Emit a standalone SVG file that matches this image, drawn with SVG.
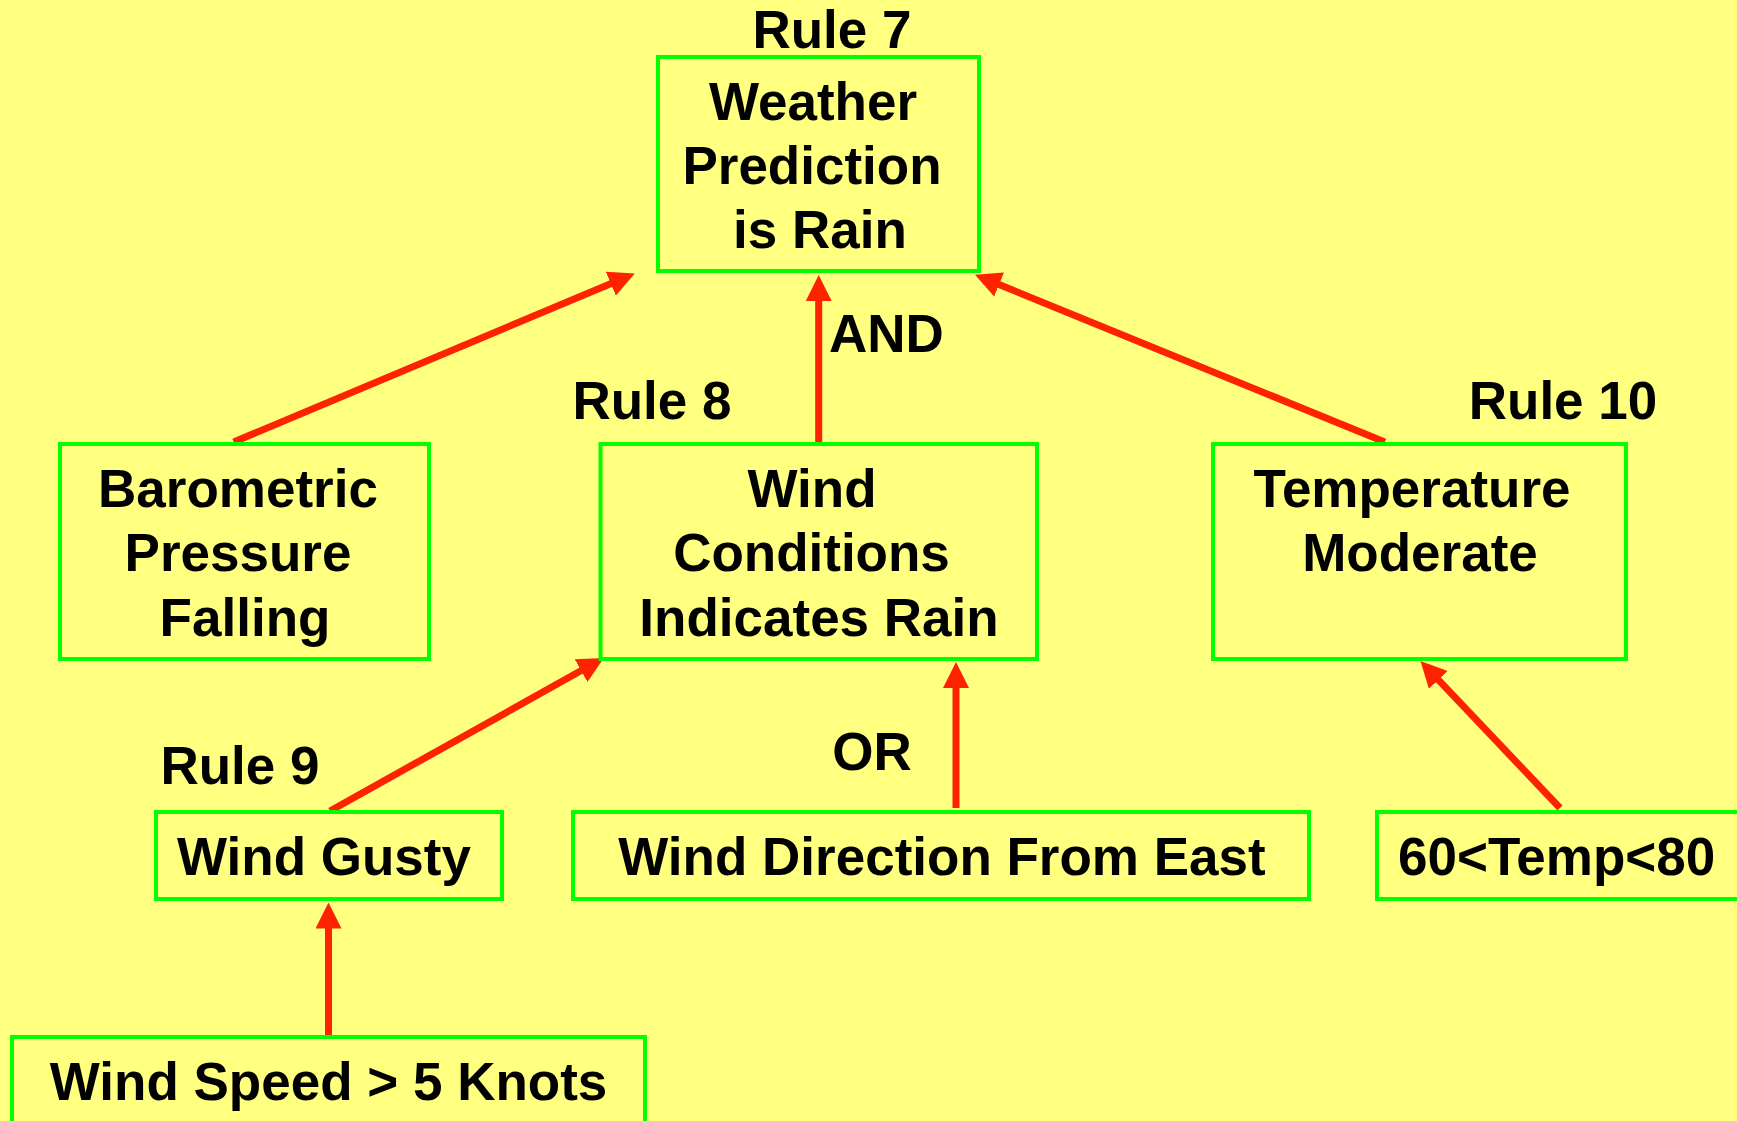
<svg xmlns="http://www.w3.org/2000/svg" width="1737" height="1121" viewBox="0 0 1737 1121">
<defs>
<style>
.bg{fill:#FFFF80}
.box{fill:none;stroke:#00FF00;stroke-width:4}
.t{font-family:"Liberation Sans",Arial,sans-serif;font-weight:bold;font-size:53px;fill:#000;text-anchor:middle}
.ts{font-family:"Liberation Sans",Arial,sans-serif;font-weight:bold;font-size:53px;fill:#000;text-anchor:start}
.c{stroke:#FF2200;stroke-width:7;fill:none;marker-end:url(#ah)}
</style>
<marker id="ah" viewBox="0 0 26 26" markerWidth="26" markerHeight="26" markerUnits="userSpaceOnUse" refX="12" refY="13" orient="auto">
<path d="M0,0 L26,13 L0,26 z" fill="#FF2200"/>
</marker>
</defs>
<rect class="bg" x="0" y="0" width="1737" height="1121"/>

<g id="connectors">
<line class="c" x1="233.7" y1="442" x2="621.9" y2="279"/>
<line class="c" x1="818.7" y1="442" x2="818.7" y2="289"/>
<line class="c" x1="1384.8" y1="442" x2="988" y2="280"/>
<line class="c" x1="330" y1="811" x2="591.6" y2="664.8"/>
<line class="c" x1="956" y1="808" x2="956" y2="676"/>
<line class="c" x1="1560" y1="808" x2="1430.1" y2="671.2"/>
<line class="c" x1="328.5" y1="1035" x2="328.5" y2="916.5"/>
</g>

<g id="labels">
<text class="t" x="832" y="48">Rule 7</text>
<text class="t" x="652" y="419">Rule 8</text>
<text class="t" x="240" y="784">Rule 9</text>
<text class="t" x="1563" y="419">Rule 10</text>
<text class="ts" x="829" y="352">AND</text>
<text class="t" x="872" y="770">OR</text>
</g>

<g id="rule7">
<rect class="box" x="658" y="57" width="321" height="214"/>
<text class="t" x="813" y="120">Weather</text>
<text class="t" x="812" y="184">Prediction</text>
<text class="t" x="820" y="248">is Rain</text>
</g>

<g id="barometric">
<rect class="box" x="60" y="444" width="369" height="215"/>
<text class="t" x="238" y="507">Barometric</text>
<text class="t" x="238" y="571">Pressure</text>
<text class="t" x="245" y="636">Falling</text>
</g>

<g id="rule8">
<rect class="box" x="600.5" y="444" width="436.5" height="215"/>
<text class="t" x="812" y="507">Wind</text>
<text class="t" x="811.5" y="571">Conditions</text>
<text class="t" x="819" y="636">Indicates Rain</text>
</g>

<g id="rule10">
<rect class="box" x="1213" y="444" width="413" height="215"/>
<text class="t" x="1412" y="507">Temperature</text>
<text class="t" x="1420" y="571">Moderate</text>
</g>

<g id="rule9">
<rect class="box" x="156" y="812" width="346" height="87"/>
<text class="t" x="324" y="875">Wind Gusty</text>
</g>

<g id="winddir">
<rect class="box" x="573" y="812" width="736" height="87"/>
<text class="t" x="942" y="875">Wind Direction From East</text>
</g>

<g id="temprange">
<rect class="box" x="1377" y="812" width="400" height="87"/>
<text class="ts" x="1398" y="875">60&lt;Temp&lt;80</text>
</g>

<g id="windspeed">
<rect class="box" x="12" y="1037" width="633" height="120"/>
<text class="t" x="328.5" y="1100">Wind Speed &gt; 5 Knots</text>
</g>
</svg>
